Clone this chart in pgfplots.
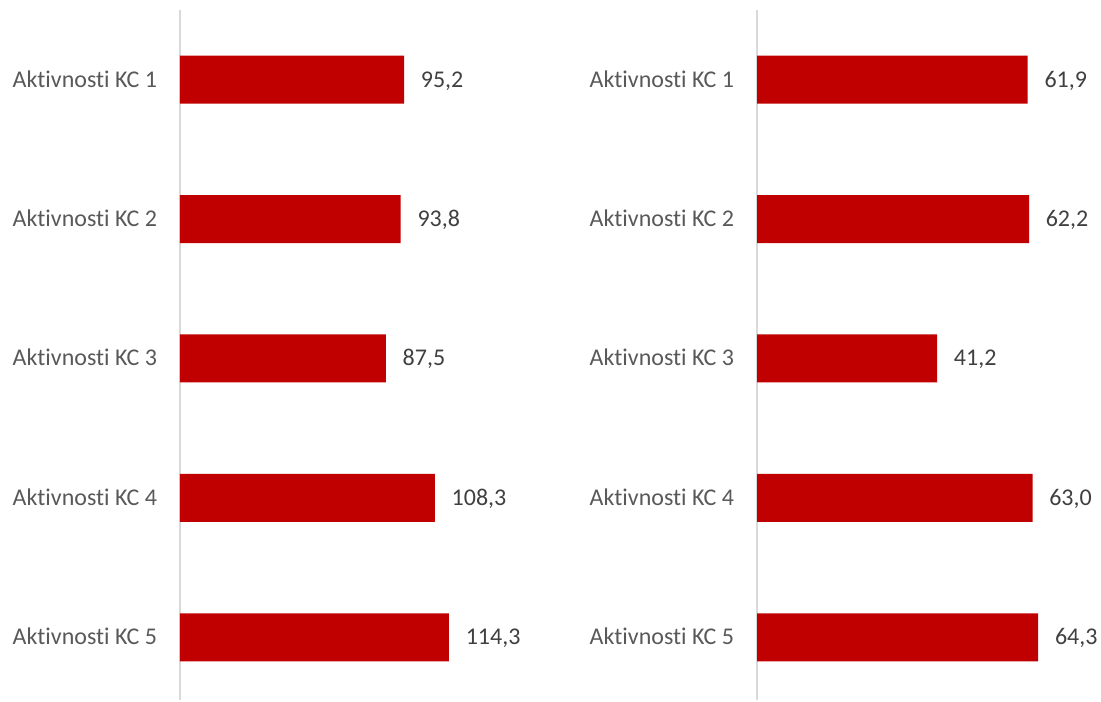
\documentclass[border=0pt]{standalone}
\usepackage{pgfplots}
\pgfplotsset{compat=1.18}
\usepackage{fontspec}
\setmainfont[Ligatures={NoCommon,NoContextual}]{Carlito}
\definecolor{barred}{HTML}{C00000}
\definecolor{labgray}{HTML}{595959}
\definecolor{valgray}{HTML}{404040}
\definecolor{axgray}{HTML}{D9D9D9}
\pgfplotsset{
  kcstyle/.style={
    scale only axis,
    height=517.5pt,
    xbar, bar width=36pt, bar shift=0pt,
    y dir=reverse,
    ymin=-0.5, ymax=4.45,
    xmin=0,
    axis x line=none,
    axis y line=left,
    y axis line style={draw=axgray, line width=1.2pt, -},
    ytick={0,1,2,3,4},
    yticklabels={Aktivnosti KC 1,Aktivnosti KC 2,Aktivnosti KC 3,Aktivnosti KC 4,Aktivnosti KC 5},
    major tick length=0pt,
    yticklabel style={font=\fontsize{18}{21}\selectfont, text=labgray, inner sep=0pt, anchor=base east, yshift=-5.6pt, xshift=-17pt},
    /pgf/number format/assume math mode=true,
    nodes near coords={\pgfmathprintnumber[fixed,fixed zerofill,precision=1,use comma]{\pgfplotspointmeta}},
    nodes near coords style={font=\fontsize{18}{21}\selectfont, text=valgray, anchor=base west, inner sep=0pt, xshift=12.4pt, yshift=-5.6pt},
    point meta=explicit,
    clip=false,
  }
}
\begin{document}
\begin{tikzpicture}
\useasboundingbox (0,0) rectangle (825.75pt,526.5pt);
\begin{axis}[kcstyle, at={(135pt,519pt)}, anchor=north west, width=264.75pt, xmax=150]
\addplot[fill=barred, draw=none] coordinates {(95.2,0) [95.2] (93.8,1) [93.8] (87.5,2) [87.5] (108.3,3) [108.3] (114.3,4) [114.3]};
\end{axis}
\begin{axis}[kcstyle, at={(567.75pt,519pt)}, anchor=north west, width=246pt, xmax=75]
\addplot[fill=barred, draw=none] coordinates {(61.9,0) [61.9] (62.2,1) [62.2] (41.2,2) [41.2] (63.0,3) [63.0] (64.3,4) [64.3]};
\end{axis}
\end{tikzpicture}
\end{document}
